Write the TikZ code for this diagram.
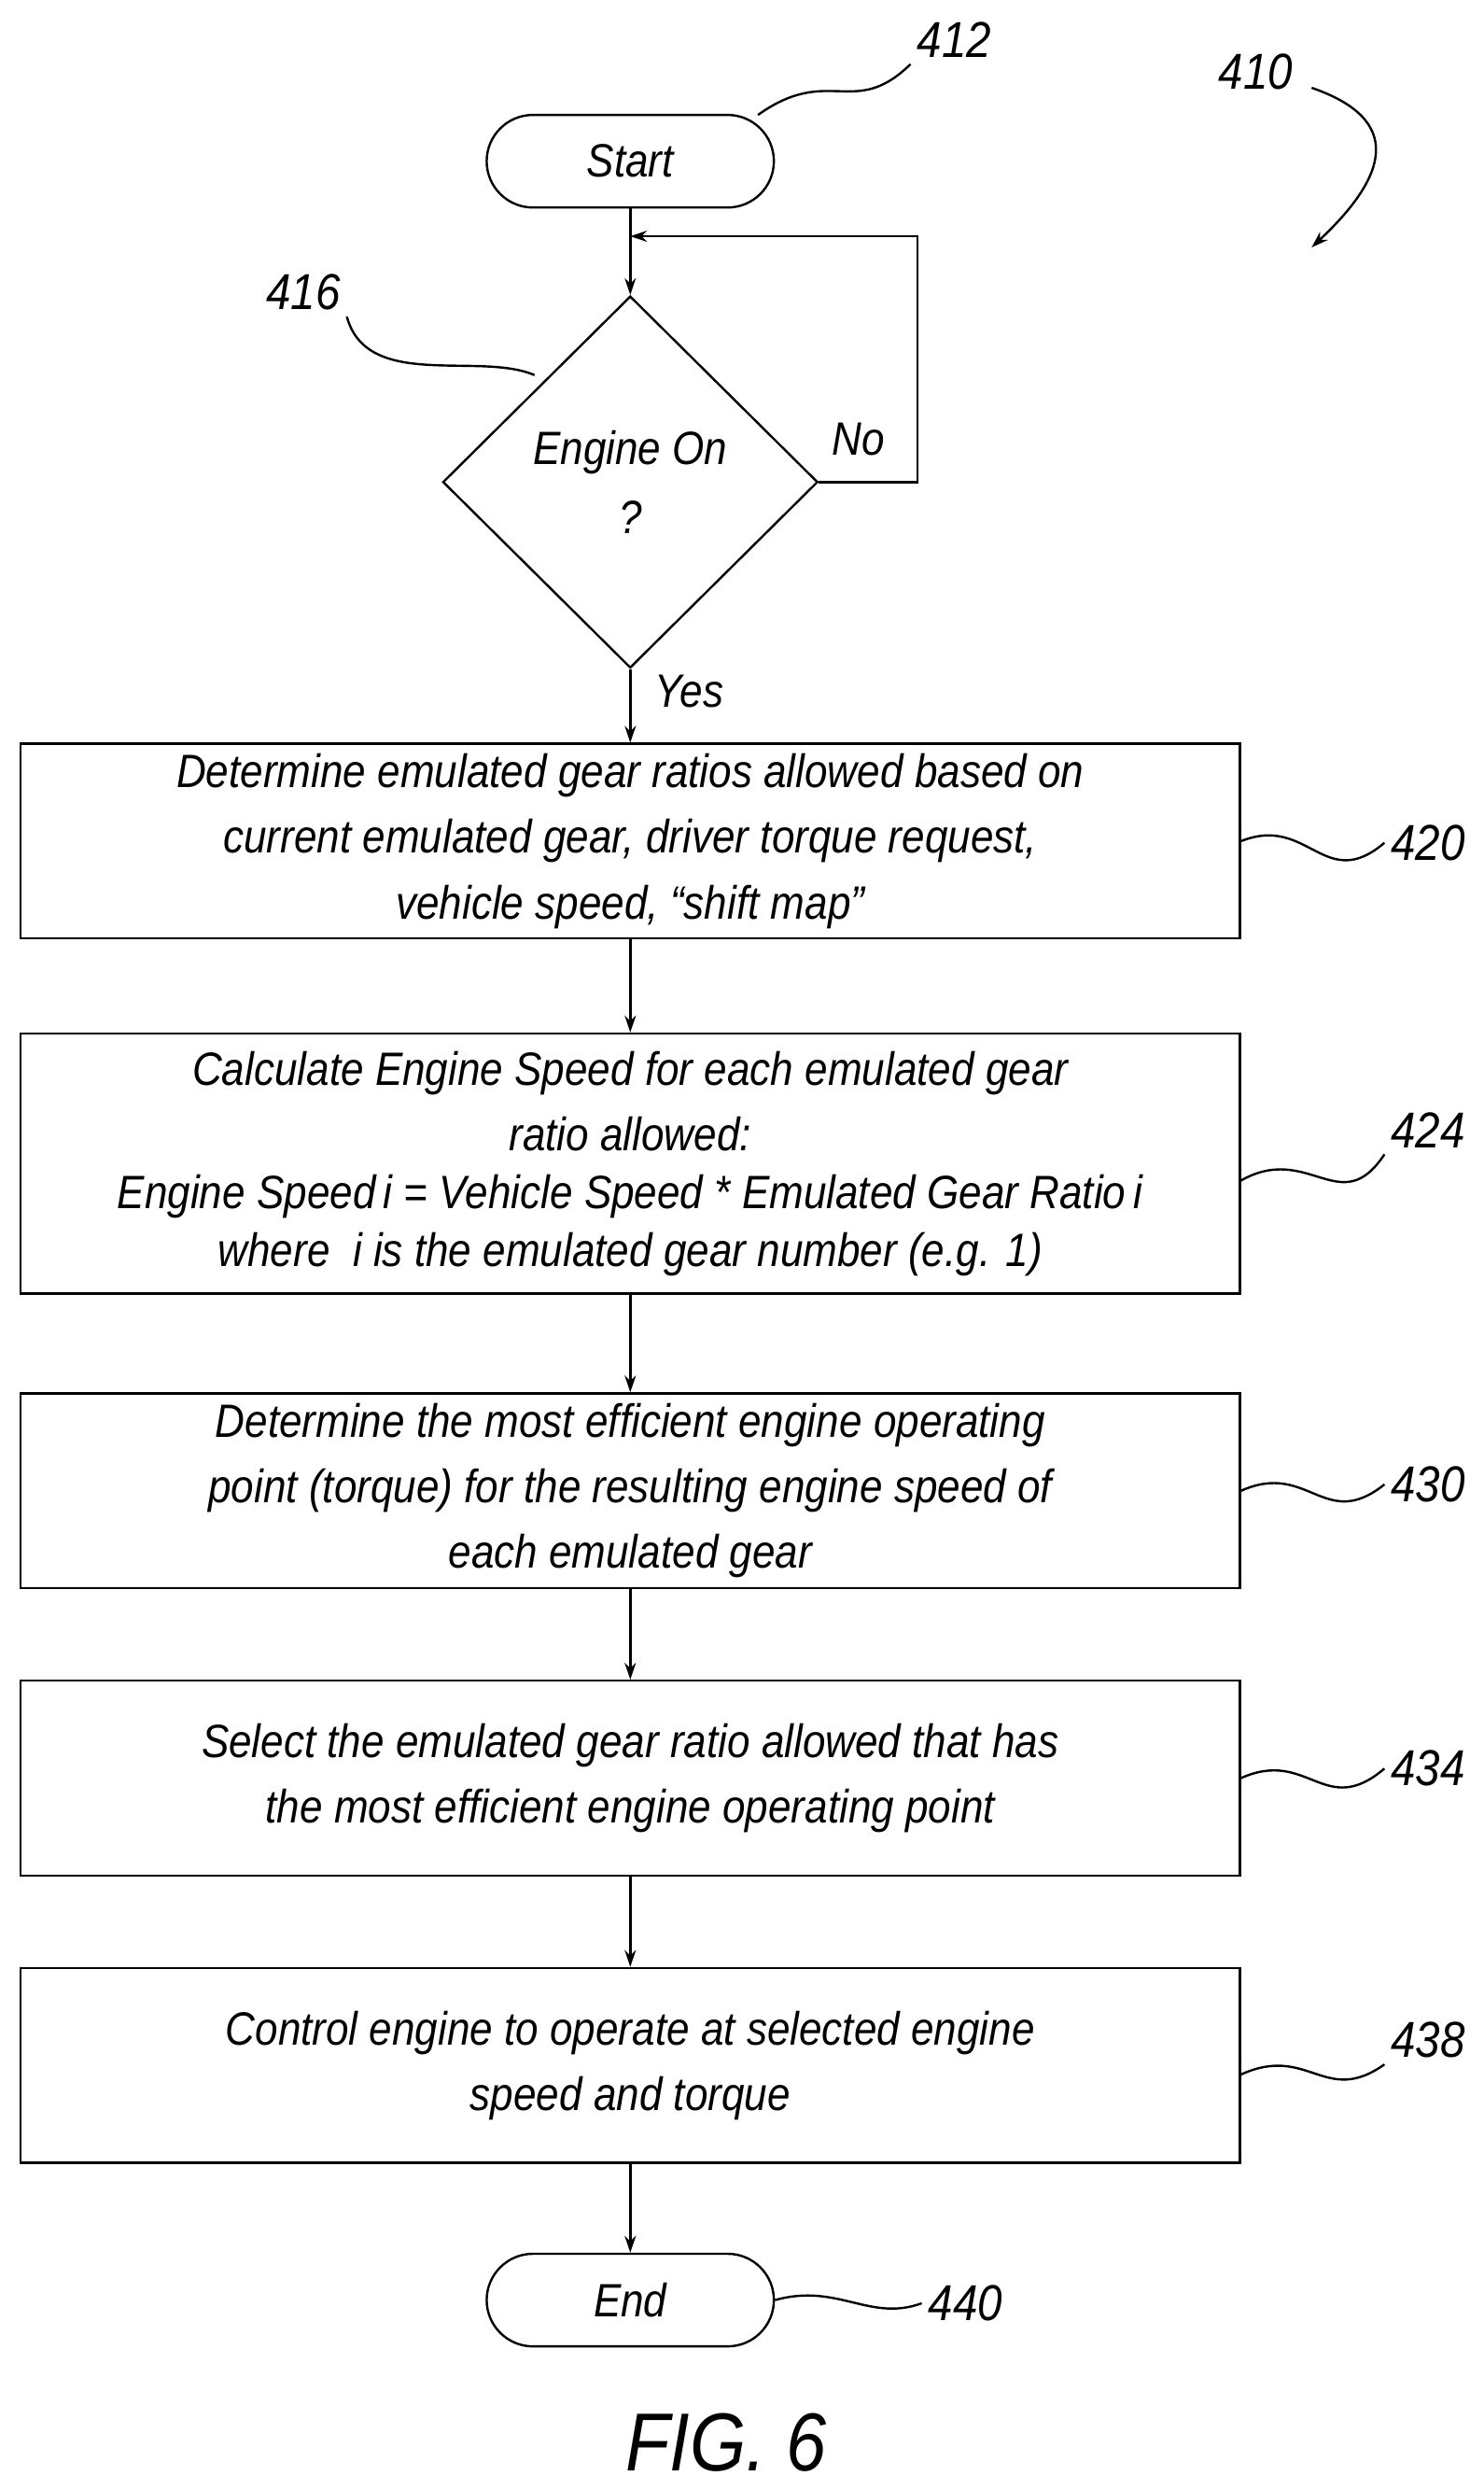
\documentclass[tikz,border=0pt]{standalone}
\usepackage{fontspec}
\setmainfont{Liberation Sans}[FakeStretch=0.88]
\usetikzlibrary{shapes.geometric, arrows.meta}

\begin{document}
\begin{tikzpicture}
	[%
	x=0.03cm, y=-0.03cm,
	every node/.style={font=\fontsize{25}{35}\selectfont\itshape},
	stepbox/.style  ={rectangle, draw, line width=1.2pt, minimum width=764*0.03cm, minimum height=122*0.03cm, align=center},%
	term/.style     ={rectangle, rounded corners=29*0.03cm, draw, line width=1.2pt, minimum width=180*0.03cm, minimum height=58*0.03cm},%
	test/.style     ={diamond, draw, line width=1.2pt, minimum width=235*0.03cm, minimum height=233*0.03cm, inner sep=0pt, aspect=1, align=center},%
	flow/.style     ={-{Stealth[length=9pt, width=6pt]}, line width=1.2pt},%
	lead/.style     ={line width=1.2pt},%
	ref/.style      ={font=\fontsize{27}{30}\selectfont\itshape},%
	]

	\useasboundingbox (0,0) rectangle (930,1560);

	% nodes
	\node (start) at (395,101) [term] {Start};
	\node (engon) at (395,302) [test] {Engine On\\[2pt]?};

	\node (s420) at (395,527) [stepbox] {Determine emulated gear ratios allowed based on\\current emulated gear, driver torque request,\\vehicle speed, “shift map”};
	\node (s424) at (395,729) [stepbox, minimum height=163*0.03cm] {Calculate Engine Speed for each emulated gear\\ratio allowed:\\[-4pt]Engine Speed\,\textit{i} = Vehicle Speed * Emulated Gear Ratio\,\textit{i}\\[-4pt]where \ \textit{i} is the emulated gear number (e.g. 1)};
	\node (s430) at (395,934) [stepbox] {Determine the most efficient engine operating\\point (torque) for the resulting engine speed of\\each emulated gear};
	\node (s434) at (395,1114) [stepbox] {Select the emulated gear ratio allowed that has\\the most efficient engine operating point};
	\node (s438) at (395,1294) [stepbox] {Control engine to operate at selected engine\\speed and torque};
	\node (stop) at (395,1441) [term] {End};

	\coordinate (loopin) at (395,148);

	% flow
	\draw [line width=1.2pt] (start) -- (loopin);
	\draw [flow] (loopin) -- (engon.north);
	\draw [flow] (engon.east) -- (575,302) -- (575,148) -- (loopin);
	\node at (538,275) {No};
	\draw [flow] (engon.south) -- (s420);
	\node at (432,433) {Yes};
	\draw [flow] (s420) -- (s424);
	\draw [flow] (s424) -- (s430);
	\draw [flow] (s430) -- (s434);
	\draw [flow] (s434) -- (s438);
	\draw [flow] (s438) -- (stop);

	% reference numerals
	\node [ref] (r410) at (787,45) {410};
	\node [ref] (r412) at (598,25) {412};
	\node [ref] (r416) at (190,183) {416};
	\node [ref] (r420) at (895,528) {420};
	\node [ref] (r424) at (895,708) {424};
	\node [ref] (r430) at (895,930) {430};
	\node [ref] (r434) at (895,1108) {434};
	\node [ref] (r438) at (895,1278) {438};
	\node [ref] (r440) at (605,1443) {440};

	\draw [lead] (475,72) .. controls (520,40) and (535,75) .. (r412.south west);
	\draw [flow] (822,55) .. controls (880,75) and (870,110) .. (822,155);
	\draw [lead] (r416.south east) .. controls (230,245) and (300,220) .. (335,235);
	\draw [lead] (s420.east) .. controls (820,510) and (830,560) .. (r420.west);
	\draw [lead] (777,740) .. controls (820,715) and (840,765) .. (r424.south west);
	\draw [lead] (s430.east) .. controls (820,915) and (830,960) .. (r430.west);
	\draw [lead] (s434.east) .. controls (820,1095) and (830,1140) .. (r434.west);
	\draw [lead] (777,1300) .. controls (820,1280) and (830,1320) .. (r438.south west);
	\draw [lead] (stop.east) .. controls (525,1430) and (545,1455) .. (r440.west);

	\node (fig) at (455,1530) [font=\fontsize{44}{48}\selectfont\itshape] {FIG. 6};
\end{tikzpicture}
\end{document}
